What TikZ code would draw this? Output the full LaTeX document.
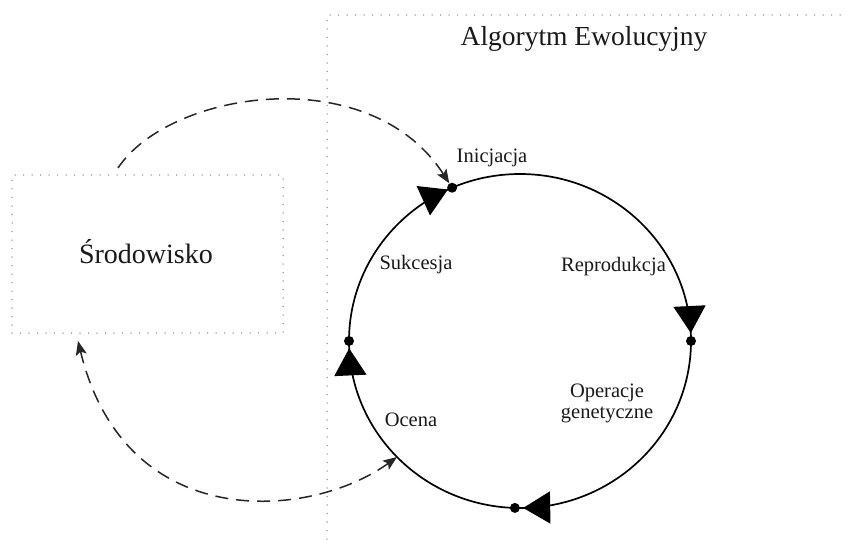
\documentclass[tikz,border=0pt]{standalone}
\usepackage{fontspec}
\setmainfont{Liberation Serif}
\usetikzlibrary{arrows.meta,decorations.markings}

\begin{document}
\begin{tikzpicture}[x=1pt,y=1pt,
  dotline/.style={draw=black!45, line width=1.5pt, line cap=round, dash pattern=on 0pt off 8.5pt},
  envbox/.style={dotline, minimum width=271pt, minimum height=158pt, inner sep=0pt},
  title/.style={anchor=base, font=\fontsize{27.5}{30}\selectfont, text=black!90},
  stage/.style={anchor=base, font=\fontsize{20.5}{22}\selectfont, text=black!90},
  stagedot/.style={circle, fill=black, inner sep=0pt, minimum size=10pt},
  flow/.style={draw=black!85, line width=1.5pt, dash pattern=on 13pt off 8pt},
  tipx/.tip={Stealth[length=14pt,width=11pt,inset=3pt]},
  cyctip/.tip={Triangle[length=27pt,width=32pt]},
  cycleline/.style={line width=1.7pt, postaction={decorate}, decoration={markings,
    mark=at position 0.247 with {\arrow{cyctip}},
    mark=at position 0.493 with {\arrow{cyctip}},
    mark=at position 0.680 with {\arrow{cyctip}},
    mark=at position 0.9925 with {\arrow{cyctip}}}}
]
\useasboundingbox (0,0) rectangle (845,539);
\fill[white] (0,0) rectangle (845,539);

% frame of the algorithm area
\coordinate (frameTop) at (327,524);
\coordinate (frameBottom) at (327,0);
\coordinate (frameRight) at (845,524);
\draw[dotline] (frameBottom) -- (frameTop) -- (frameRight);
\node[title] (algTitle) at (584,493) {Algorytm Ewolucyjny};

% environment box
\node[envbox] (env) at (147.5,285) {};
\node[title, font=\fontsize{28}{30}\selectfont] (envLabel) at (146,276) {Środowisko};

% evolution cycle (drawn clockwise)
\draw[cycleline] (691,198) arc[start angle=0, end angle=-360, x radius=171pt, y radius=167pt];

\node[stagedot] (pRight) at (691,198) {};
\node[stagedot] (pBottom) at (514.9,31.1) {};
\node[stagedot] (pLeft) at (349,198) {};
\node[stagedot] (pInit) at (452.1,351.3) {};

\node[stage] (lInit) at (492,376) {Inicjacja};
\node[stage] (lRepr) at (613.5,268) {Reprodukcja};
\node[stage] (lSucc) at (416,270) {Sukcesja};
\node[stage, align=center, anchor=base] (lOper) at (607,121) {Operacje\\[-1pt]genetyczne};
\node[stage] (lEval) at (411,113) {Ocena};

% links between environment and algorithm
\coordinate (envOut) at (118,371);
\coordinate (evalPt) at (397,82);
\coordinate (envIn) at (78,198);
\draw[flow, -tipx] (envOut) .. controls (170,449) and (370,479) .. (pInit);
\draw[flow, tipx-tipx] (evalPt) .. controls (310,19) and (125,4) .. (envIn);
\end{tikzpicture}
\end{document}
